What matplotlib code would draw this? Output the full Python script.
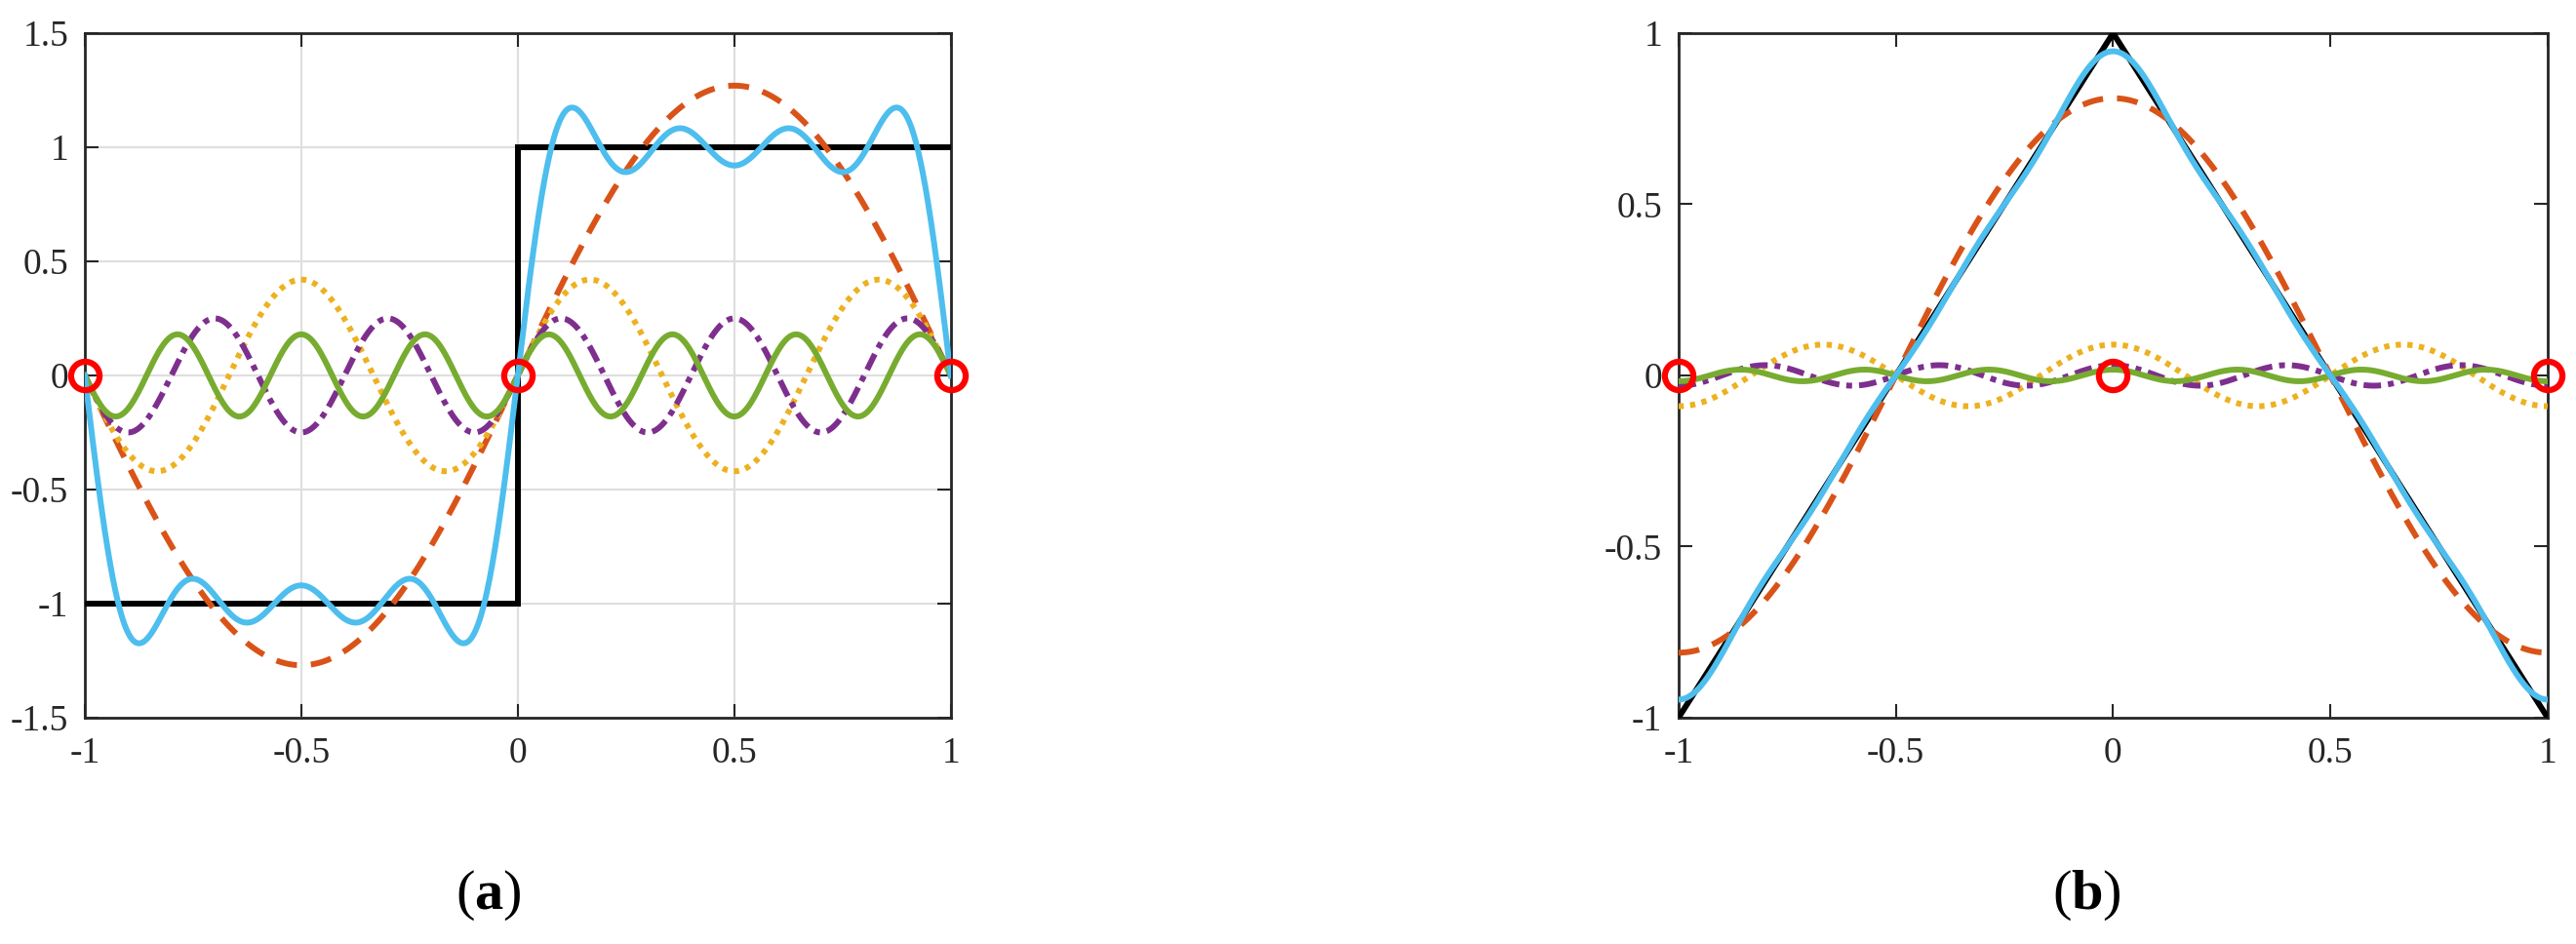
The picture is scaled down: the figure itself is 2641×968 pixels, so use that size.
import numpy as np
import matplotlib
matplotlib.use("Agg")
import matplotlib.pyplot as plt

plt.rcParams['font.family'] = ['Liberation Serif', 'DejaVu Serif']
plt.rcParams['axes.unicode_minus'] = False
plt.rcParams['mathtext.fontset'] = 'custom'
plt.rcParams['mathtext.rm'] = 'Liberation Serif'
plt.rcParams['mathtext.bf'] = 'Liberation Serif:bold'

# ---- data ----
x_range = [-1.0, 1.0]
xticks = [-1, -0.5, 0, 0.5, 1]
xtick_labels = ['-1', '-0.5', '0', '0.5', '1']

# panel (a): square wave and its sine harmonics
square_x = [-1, 0, 0, 1]
square_y = [-1, -1, 1, 1]
harm_orders_a = [1, 3, 5, 7]
harm_amps_a = [1.27, 0.42, 0.25, 0.18]
yticks_a = [-1.5, -1, -0.5, 0, 0.5, 1, 1.5]
ytick_labels_a = ['-1.5', '-1', '-0.5', '0', '0.5', '1', '1.5']

# panel (b): triangle wave and its cosine harmonics
tri_x = [-1, 0, 1]
tri_y = [-1, 1, -1]
harm_orders_b = [1, 3, 5, 7]
harm_amps_b = [0.81, 0.09, 0.03, 0.017]
yticks_b = [-1, -0.5, 0, 0.5, 1]
ytick_labels_b = ['-1', '-0.5', '0', '0.5', '1']

# sample points (red circles)
pts_x = [-1, 0, 1]
pts_y = [0, 0, 0]

# ---- style ----
LW = 4.3
harm_colors = ['#D95319', '#EDB120', '#7E2F8E', '#77AC30']
harm_dashes = [(3.6, 2.4), (0.9, 1.1), (3.0, 1.2, 1.0, 1.2), None]
sum_color = '#4DBEEE'

fig = plt.figure(figsize=(26.41, 9.68), dpi=100)
ax_a = fig.add_axes([0.0329, 0.2397, 0.3362, 0.7252])
ax_b = fig.add_axes([0.6516, 0.2397, 0.3374, 0.7252])

xs = np.linspace(x_range[0], x_range[1], 2001)


def draw(ax, base_x, base_y, orders, amps, func, yticks, ylabels, ylim, grid):
    ax.plot(base_x, base_y, color='black', lw=LW, solid_joinstyle='miter', zorder=3)
    total = np.zeros_like(xs)
    for n, a, c, d in zip(orders, amps, harm_colors, harm_dashes):
        y = a * func(n * np.pi * xs)
        total += y
        line, = ax.plot(xs, y, color=c, lw=LW, zorder=4)
        if d is not None:
            line.set_dashes(d)
            line.set_dash_capstyle('butt')
    ax.plot(xs, total, color=sum_color, lw=LW, zorder=5)
    ax.plot(pts_x, pts_y, 'o', ms=21, mfc='none', mec='#FF0000', mew=4.5, zorder=6,
            clip_on=False)
    ax.set_xlim(*x_range)
    ax.set_ylim(*ylim)
    ax.set_xticks(xticks)
    ax.set_xticklabels(xtick_labels)
    ax.set_yticks(yticks)
    ax.set_yticklabels(ylabels)
    ax.tick_params(direction='in', length=10, width=1.5, colors='#262626',
                   labelsize=27, labelcolor='#262626', top=True, right=True,
                   labeltop=False, labelright=False)
    ax.tick_params(axis='x', pad=14)
    ax.tick_params(axis='y', pad=12)
    for s in ax.spines.values():
        s.set_linewidth(2.0)
        s.set_color('#262626')
    if grid:
        ax.grid(True, color='#DFDFDF', lw=1.6, zorder=0)
        ax.set_axisbelow(True)


draw(ax_a, square_x, square_y, harm_orders_a, harm_amps_a, np.sin,
     yticks_a, ytick_labels_a, (-1.5, 1.5), True)
draw(ax_b, tri_x, tri_y, harm_orders_b, harm_amps_b, np.cos,
     yticks_b, ytick_labels_b, (-1, 1), False)

fig.text(501 / 2641, 1 - 918 / 968, r'$\mathrm{(}\mathbf{a}\mathrm{)}$',
         ha='center', va='center', fontsize=42)
fig.text(2139 / 2641, 1 - 918 / 968, r'$\mathrm{(}\mathbf{b}\mathrm{)}$',
         ha='center', va='center', fontsize=42)

fig.savefig('out.png', dpi=100)
